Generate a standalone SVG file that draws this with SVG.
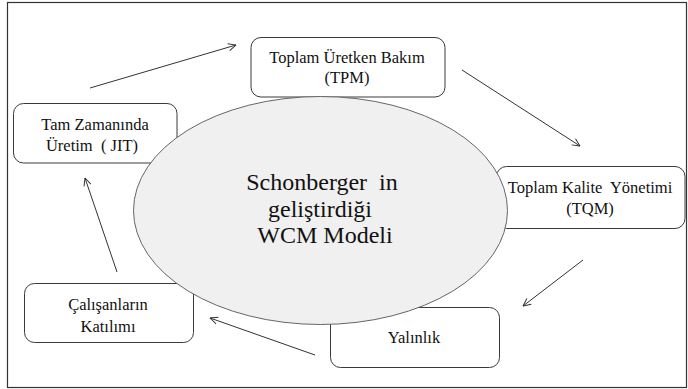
<svg xmlns="http://www.w3.org/2000/svg" width="688" height="389" viewBox="0 0 688 389">
<style>
.box{fill:#fff;stroke:#3a3a3a;stroke-width:1}
.conn line{stroke:#333;stroke-width:1;marker-end:url(#ah)}
text{white-space:pre}
</style>
<defs>
<marker id="ah" viewBox="0 0 10 10" refX="9.5" refY="5" markerWidth="9" markerHeight="9" markerUnits="userSpaceOnUse" orient="auto">
<path d="M1,1 L9.5,5 L1,9" fill="none" stroke="#333" stroke-width="1.1"/>
</marker>
</defs>
<rect x="0" y="0" width="688" height="389" fill="#fff"/>
<rect x="7.5" y="2.5" width="679" height="385" fill="none" stroke="#333" stroke-width="1.2"/>
<g font-family="Liberation Serif, Times New Roman, serif" fill="#111" text-anchor="middle" font-size="16.5">
<g id="tpm"><rect class="box" x="251" y="37.5" width="194" height="59.5" rx="10"/>
<text x="347" y="63">Toplam Üretken Bakım</text><text x="347" y="83">(TPM)</text></g>
<g id="jit"><rect class="box" x="13.5" y="103.5" width="163.5" height="59.5" rx="10"/>
<text x="95" y="130">Tam Zamanında</text><text x="92" y="151" xml:space="preserve">Üretim  ( JIT)</text></g>
<g id="tqm"><rect class="box" x="496.5" y="166.5" width="188.5" height="62" rx="10"/>
<text x="590" y="193" xml:space="preserve">Toplam Kalite  Yönetimi</text><text x="590" y="214">(TQM)</text></g>
<g id="cal"><rect class="box" x="24.5" y="283.5" width="169" height="59" rx="10"/>
<text x="108" y="310">Çalışanların</text><text x="108" y="332">Katılımı</text></g>
<g id="yal"><rect class="box" x="330.5" y="307.5" width="169" height="60" rx="10"/>
<text x="414" y="343">Yalınlık</text></g>
<g id="center"><ellipse cx="320.5" cy="210.5" rx="187" ry="114" fill="#f0f0f0" stroke="#666" stroke-width="1"/>
<text font-size="24" x="322" y="190" xml:space="preserve">Schonberger  in</text><text font-size="24" x="320" y="217">geliştirdiği</text><text font-size="24" x="325" y="243">WCM Modeli</text></g>
</g>
<g class="conn" id="connectors">
<line x1="90" y1="88" x2="236" y2="45"/>
<line x1="462" y1="70" x2="580" y2="146"/>
<line x1="583" y1="260" x2="523" y2="306"/>
<line x1="315" y1="355" x2="210" y2="318"/>
<line x1="117" y1="272" x2="85" y2="178"/>
</g>
</svg>
